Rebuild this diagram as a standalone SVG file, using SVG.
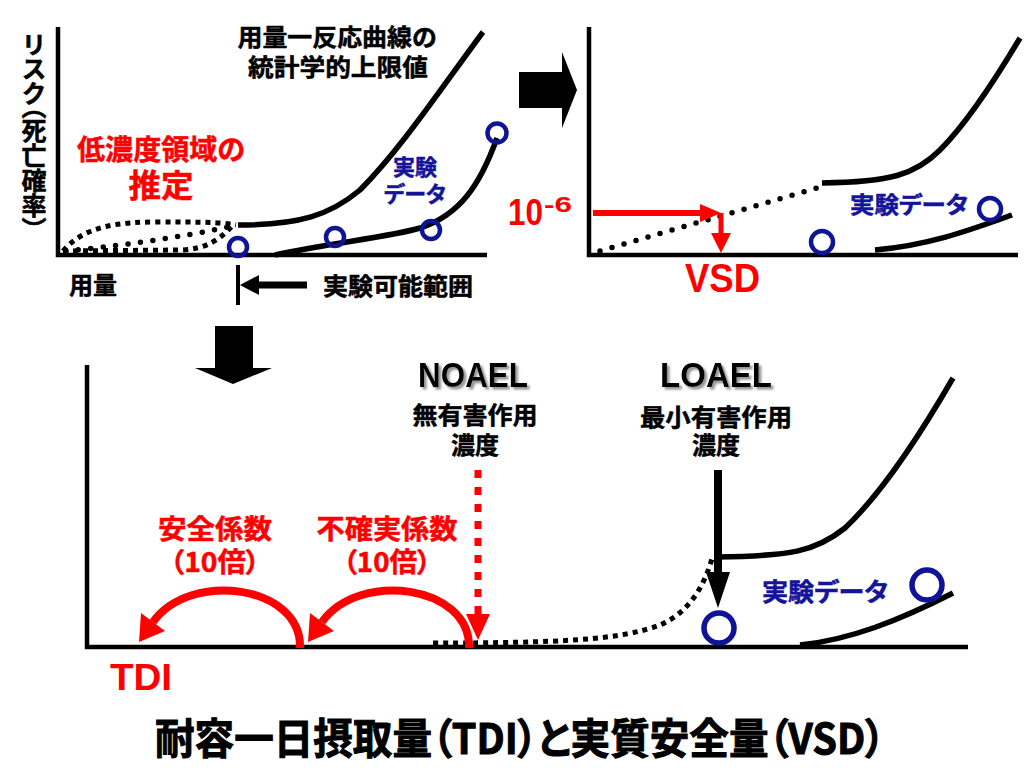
<svg xmlns="http://www.w3.org/2000/svg" width="1024" height="768" viewBox="0 0 1024 768">
<style>
.ax{stroke:#000;stroke-width:4.5;fill:none}
.cv{stroke:#000;stroke-width:5.5;fill:none}
.pt{stroke:#0f1496;stroke-width:4.5;fill:none}
.pt2{stroke:#0f1496;stroke-width:5.5;fill:none}
.sq{stroke:#000;stroke-width:5;stroke-dasharray:5 5;fill:none}
.rd{stroke:#000;stroke-width:5.5;stroke-dasharray:0 12.5;stroke-linecap:round;fill:none}
.jp{font-family:"Noto Sans CJK JP","Noto Sans CJK SC",sans-serif;font-weight:bold;font-feature-settings:"palt";stroke-width:0.5}
.en{font-family:"Liberation Sans","Noto Sans CJK JP",sans-serif;font-weight:bold}
.blk{fill:#000}
.red{fill:#ff0000}
.blu{fill:#14149a}
.jp.blk{stroke:#000}
.jp.red{stroke:#ff0000}
.jp.blu{stroke:#14149a}
.mid{text-anchor:middle;dominant-baseline:central}
</style>
<defs>
<filter id="sh" x="-10%" y="-20%" width="130%" height="160%">
<feDropShadow dx="2.5" dy="2.5" stdDeviation="1" flood-color="#8f8f8f" flood-opacity="1"/>
</filter>
</defs>
<rect width="1024" height="768" fill="#fff"/>

<!-- top-left chart -->
<g id="chart-tl">
<path class="ax" d="M58,27 L58,255 L487,255"/>
<path class="cv" d="M238,225 C300,225 330,215 360,190 C400,150 440,90 483,32"/>
<path class="cv" d="M275,255 C330,243 390,237 420,228 C460,215 480,185 497,138"/>
<path class="sq" d="M63,251 C85,225 120,222 160,222 C200,222 220,222 236,225"/>
<path class="rd" d="M66,251 C110,247 180,238 232,226"/>
<path class="sq" d="M63,251 L182,250 C205,249 220,240 232,226"/>
<circle class="pt" cx="238" cy="247" r="9"/>
<circle class="pt" cx="335" cy="237" r="9"/>
<circle class="pt" cx="431" cy="230" r="9"/>
<circle class="pt" cx="497" cy="133" r="9.5"/>
</g>
<g id="label-ul" class="jp blk mid" font-size="24">
<text x="337" y="35" textLength="199" lengthAdjust="spacingAndGlyphs">用量一反応曲線の</text>
<text x="338" y="65" textLength="180" lengthAdjust="spacingAndGlyphs">統計学的上限値</text>
</g>
<g id="label-risk">
<text class="jp blk" x="34" y="33" font-size="25" style="writing-mode:vertical-rl;font-feature-settings:'vpal'">リスク（死亡確率）</text>
</g>
<g id="label-low" class="jp red mid">
<text x="161" y="148" font-size="28" textLength="168" lengthAdjust="spacingAndGlyphs">低濃度領域の</text>
<text x="161" y="183" font-size="32" textLength="65" lengthAdjust="spacingAndGlyphs">推定</text>
</g>
<g id="label-data-tl" class="jp blu mid" font-size="22">
<text x="415" y="165">実験</text>
<text x="415" y="192">データ</text>
</g>
<g id="label-dose" class="jp blk mid" font-size="24">
<text x="93" y="283">用量</text>
</g>
<g id="label-range" class="jp blk mid" font-size="24">
<text x="398" y="284" textLength="150" lengthAdjust="spacingAndGlyphs">実験可能範囲</text>
</g>

<!-- top-right chart -->
<g id="chart-tr">
<path class="ax" d="M589,27 L589,255 L1018,255"/>
<path class="cv" d="M822,183 C890,182 915,175 940,150 C965,125 995,80 1020,38"/>
<path class="cv" d="M875,250 C930,245 970,230 1012,215"/>
<path class="rd" d="M600,251 L817,188"/>
<circle class="pt" cx="822" cy="242" r="11"/>
<circle class="pt" cx="990" cy="209" r="11"/>
</g>
<g id="label-1e6" class="en red">
<text x="508" y="225" font-size="36" textLength="35" lengthAdjust="spacingAndGlyphs">10</text>
<text x="544" y="212" font-size="22" textLength="28" lengthAdjust="spacingAndGlyphs">-6</text>
</g>
<g id="label-vsd" class="en red">
<text x="685" y="292" font-size="40" textLength="75" lengthAdjust="spacingAndGlyphs">VSD</text>
</g>
<g id="label-data-tr" class="jp blu mid" font-size="23">
<text x="909" y="203" textLength="118" lengthAdjust="spacingAndGlyphs">実験データ</text>
</g>

<!-- bottom chart -->
<g id="chart-b">
<path class="ax" d="M87,365 L87,647 L968,647"/>
<path class="cv" d="M717,557 C790,556 815,552 845,528 C880,495 920,435 953,378"/>
<path class="cv" d="M800,645 C850,640 900,620 953,593"/>
<path class="sq" d="M433,643 C560,643 620,640 660,625 C690,612 705,585 713,555"/>
<circle class="pt2" cx="719" cy="628" r="15"/>
<circle class="pt2" cx="927" cy="585" r="15"/>
</g>
<g id="label-noael">
<text class="en blk" x="418" y="387" font-size="35" textLength="110" lengthAdjust="spacingAndGlyphs" filter="url(#sh)">NOAEL</text>
<text class="jp blk mid" x="475" y="413" font-size="24" textLength="125" lengthAdjust="spacingAndGlyphs">無有害作用</text>
<text class="jp blk mid" x="475" y="443" font-size="24">濃度</text>
</g>
<g id="label-loael">
<text class="en blk" x="660" y="387" font-size="35" textLength="112" lengthAdjust="spacingAndGlyphs" filter="url(#sh)">LOAEL</text>
<text class="jp blk mid" x="716" y="415" font-size="24" textLength="152" lengthAdjust="spacingAndGlyphs">最小有害作用</text>
<text class="jp blk mid" x="716" y="443" font-size="24">濃度</text>
</g>
<g id="label-safety" class="jp red mid" font-size="27">
<text x="215" y="527" textLength="114" lengthAdjust="spacingAndGlyphs">安全係数</text>
<text x="215" y="560" textLength="90" lengthAdjust="spacingAndGlyphs">（10倍）</text>
</g>
<g id="label-uncert" class="jp red mid" font-size="27">
<text x="387" y="527" textLength="141" lengthAdjust="spacingAndGlyphs">不確実係数</text>
<text x="387" y="560" textLength="88" lengthAdjust="spacingAndGlyphs">（10倍）</text>
</g>
<g id="label-data-b" class="jp blu mid" font-size="25">
<text x="825" y="590" textLength="126" lengthAdjust="spacingAndGlyphs">実験データ</text>
</g>
<g id="label-tdi" class="en red">
<text x="110" y="690" font-size="36" textLength="62" lengthAdjust="spacingAndGlyphs">TDI</text>
</g>
<g id="title" class="jp blk mid">
<text x="520" y="735" font-size="42" stroke-width="1" textLength="730" lengthAdjust="spacingAndGlyphs">耐容一日摂取量（TDI）と実質安全量（VSD）</text>
</g>

<!-- connectors -->
<g id="connectors">
<polygon class="blk" points="519,72 562,72 562,52 577,90 562,128 562,108 519,108"/>
<polygon class="blk" points="215,326 253,326 253,368 272,368 233,384 195,368 215,368"/>
<line x1="238" y1="265" x2="238" y2="305" stroke="#000" stroke-width="4"/>
<line x1="256" y1="285" x2="307" y2="285" stroke="#000" stroke-width="7"/>
<polygon class="blk" points="240,285 259,275 259,295"/>
<line x1="593" y1="213" x2="703" y2="213" stroke="#f00" stroke-width="6"/>
<polygon class="red" points="700,204 721,213 700,222"/>
<line x1="721" y1="213" x2="721" y2="236" stroke="#f00" stroke-width="5"/>
<polygon class="red" points="711,233 731,233 721,253"/>
<line x1="718" y1="470" x2="718" y2="575" stroke="#000" stroke-width="8"/>
<polygon class="blk" points="706,572 730,572 718,608"/>
<line x1="478" y1="470" x2="478" y2="616" stroke="#f00" stroke-width="7" stroke-dasharray="8 9"/>
<polygon class="red" points="466,614 490,614 478,640"/>
<path d="M300,648 C302,585 190,570 153,622" stroke="#f00" stroke-width="8" fill="none"/>
<polygon class="red" points="139,642 165,631 141,613"/>
<path d="M469,648 C471,585 359,570 322,622" stroke="#f00" stroke-width="8" fill="none"/>
<polygon class="red" points="308,642 334,631 310,613"/>
</g>
</svg>
